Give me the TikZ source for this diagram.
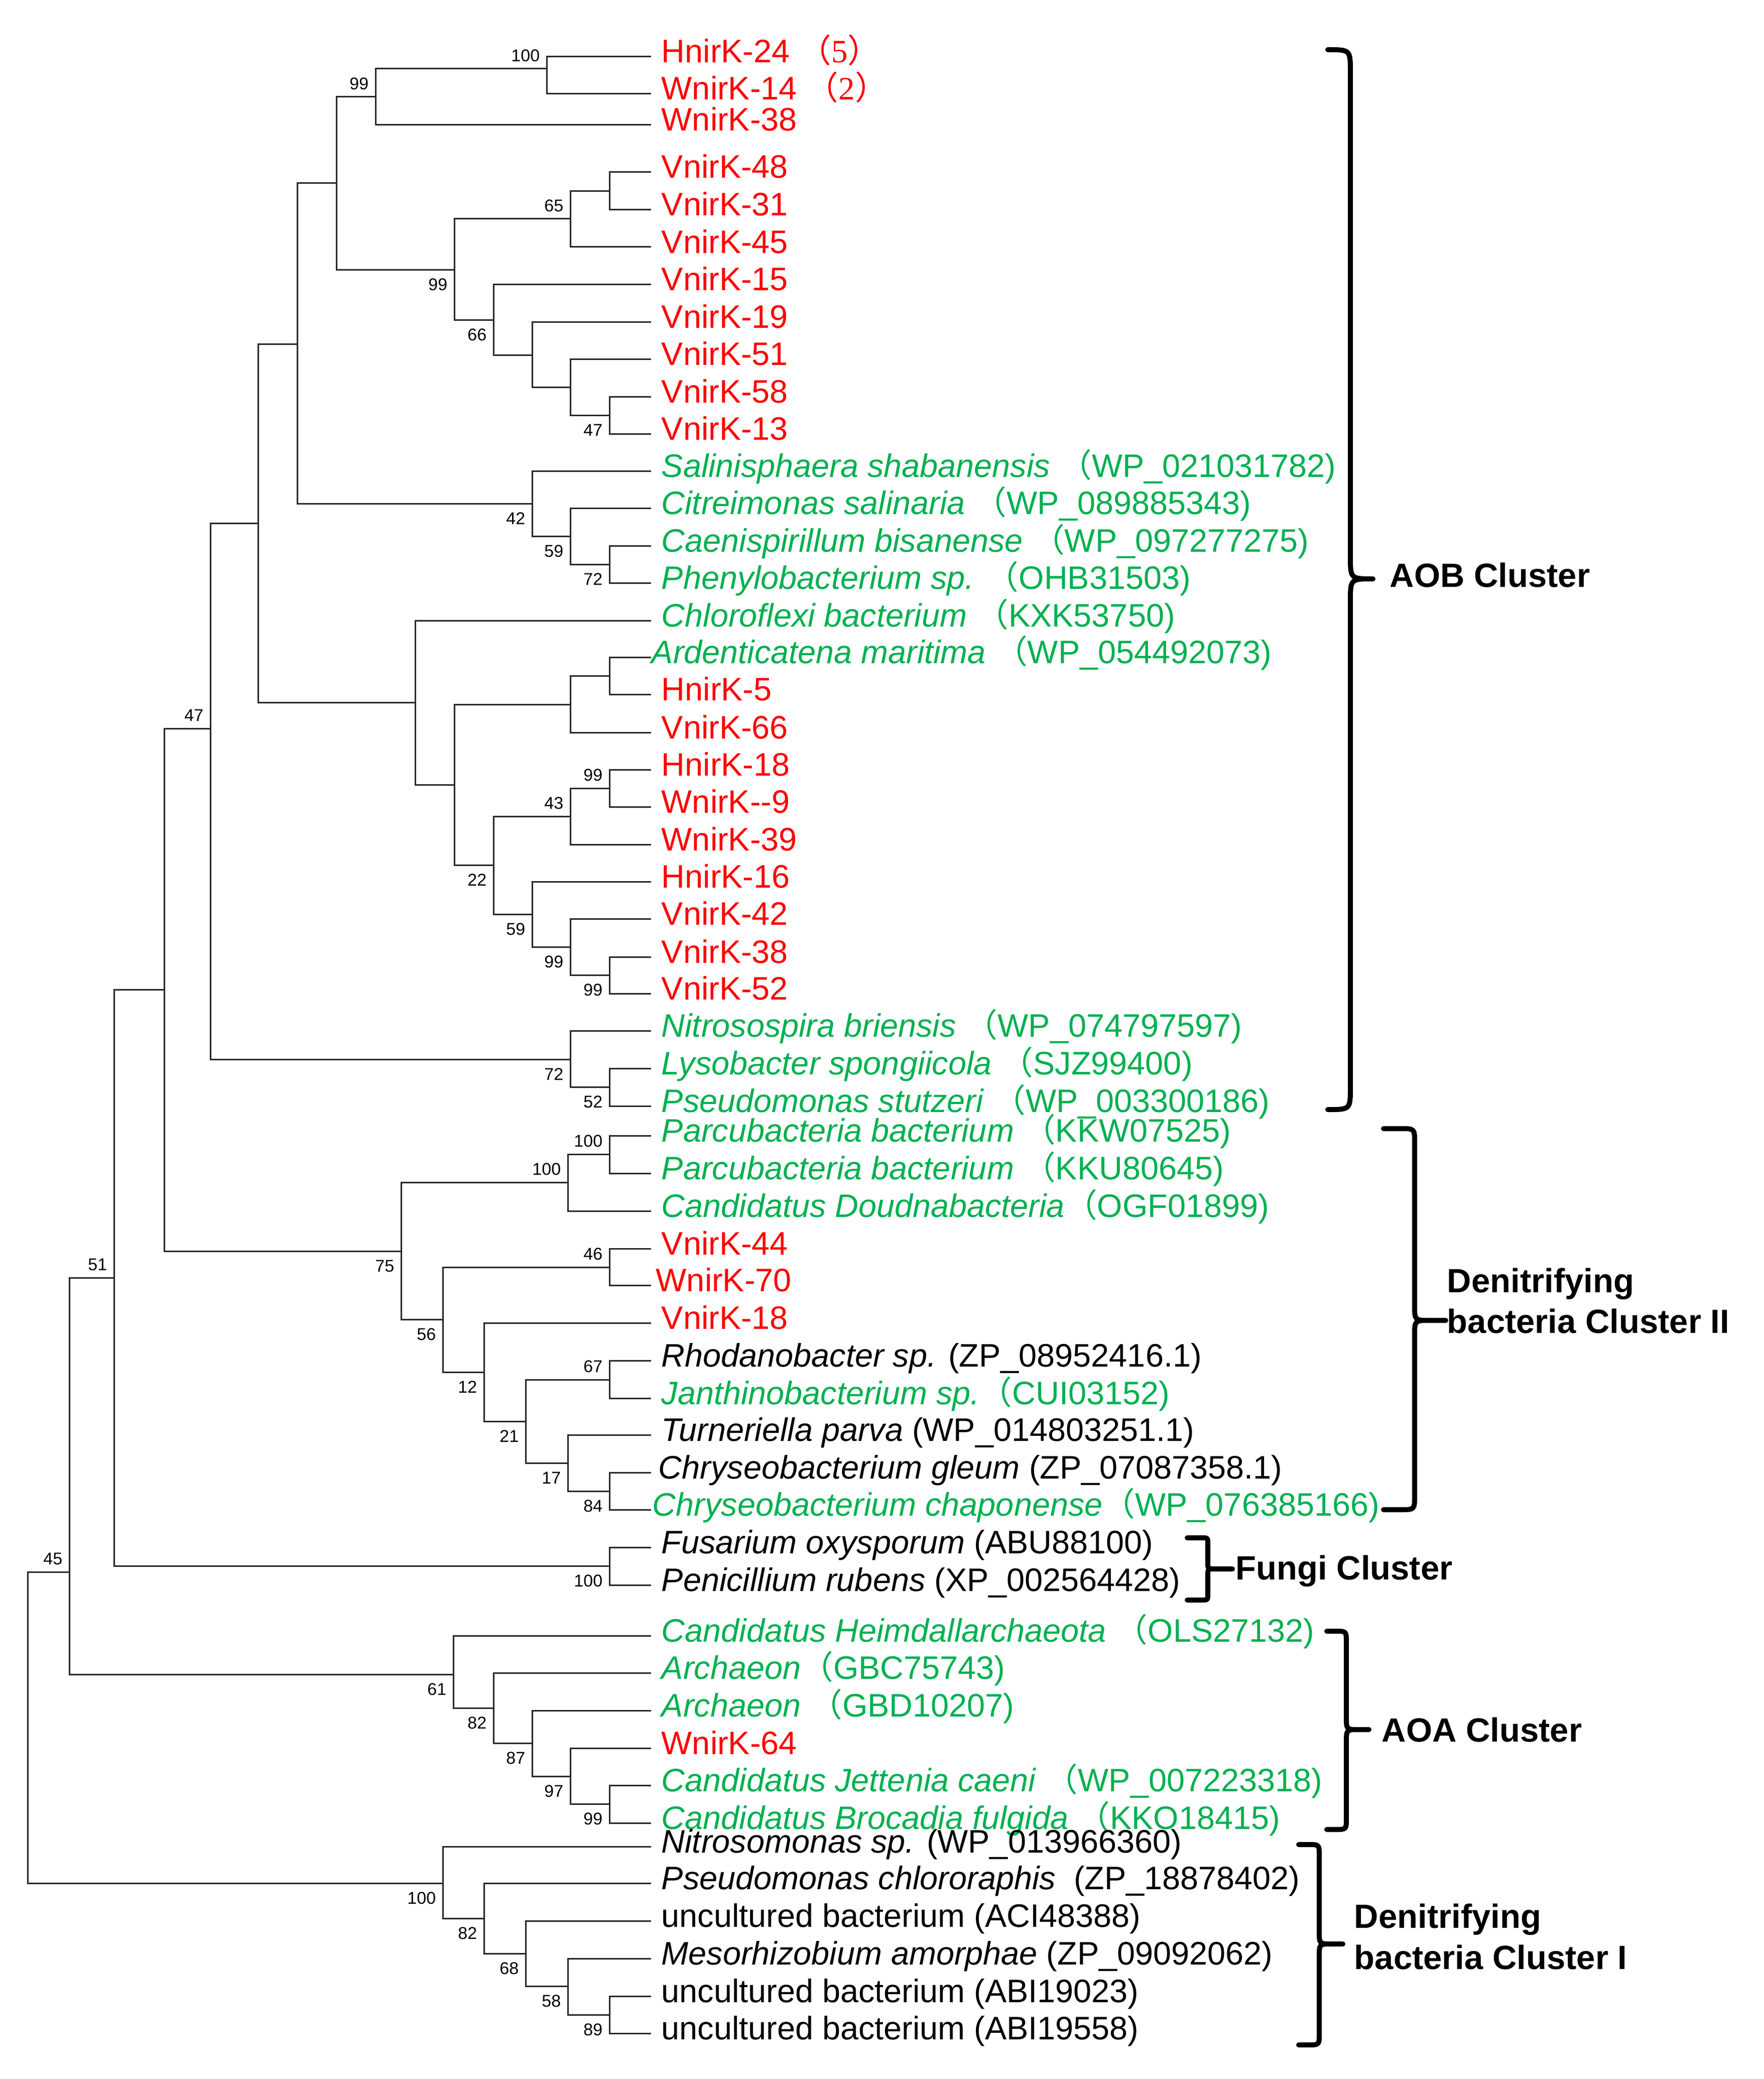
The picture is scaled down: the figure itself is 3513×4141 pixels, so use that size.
\documentclass[tikz,border=0pt]{standalone}
\usepackage{fontspec}
\setmainfont{Liberation Sans}
\newfontfamily\cjkfont{Noto Sans CJK SC}
\newfontfamily\serifdig{Liberation Serif}
\usetikzlibrary{calc}
\definecolor{myred}{RGB}{255,0,0}
\definecolor{mygreen}{RGB}{0,176,80}
\newcommand\fwl{{\cjkfont （}}
\newcommand\fwr{{\cjkfont ）}}
\newcommand\us{\textunderscore}
\newcommand\hy{\symbol{45}}
\newcommand\clbrace[8]{%
  \draw[brc] (#1,#4) -- (#2-#7,#4) .. controls (#2,#4) .. (#2,#4+#7)
    -- (#2,#5-#8) .. controls (#2,#5) .. (#2+#8,#5) -- (#3,#5)
    -- (#2+#8,#5) .. controls (#2,#5) .. (#2,#5+#8)
    -- (#2,#6-#7) .. controls (#2,#6) .. (#2-#7,#6) -- (#1,#6);}
\begin{document}
\begin{tikzpicture}[x=0.25pt,y=-0.25pt,
  br/.style={line width=0.75pt, line cap=rect, draw=black!85},
  brc/.style={line width=2.5pt, line join=round, line cap=round},
  lf/.style={font=\fontsize{16.2}{19}\selectfont, inner sep=0pt, anchor=base west, xshift=5.5pt, yshift=-3pt},
  rd/.style={lf, text=myred},
  gn/.style={lf, text=mygreen},
  bk/.style={lf, text=black},
  bsa/.style={font=\fontsize{8.5}{10}\selectfont, inner sep=0pt, anchor=south east, xshift=-3.25pt, yshift=3.4pt},
  bsb/.style={font=\fontsize{8.5}{10}\selectfont, inner sep=0pt, anchor=north east, xshift=-3.25pt, yshift=-4.3pt},
  cl/.style={font=\bfseries\fontsize{16.75}{20}\selectfont, inner sep=0pt, anchor=base west}]
\useasboundingbox (0,0) rectangle (3513,4141);

% ---------- leaf tips ----------
\foreach \i/\yy in {1/113,2/187,3/249,4/343,5/418,6/492,7/566,8/641,9/715,10/790,11/864,
  12/938,13/1012,14/1087,15/1161,16/1236,17/1309,18/1383,19/1459,20/1533,21/1607,22/1682,
  23/1756,24/1830,25/1906,26/1979,27/2053,28/2128,29/2203,30/2262,31/2337,32/2412,33/2487,
  34/2560,35/2635,36/2710,37/2785,38/2858,39/2933,40/3007,41/3082,42/3157,43/3258,44/3332,
  45/3407,46/3482,47/3556,48/3631,49/3678,50/3751,51/3826,52/3901,53/3976,54/4050}
  {\coordinate (l\i) at (1295,\yy);}

% ---------- internal nodes ----------
\coordinate (nA100) at (1089,137);
\coordinate (nA99) at (748,193);
\coordinate (nV4831) at (1214,381);
\coordinate (nV65) at (1136,436);
\coordinate (nV47) at (1214,827);
\coordinate (nV51) at (1136,771);
\coordinate (nV19) at (1060,707);
\coordinate (nV66) at (983,637);
\coordinate (nV99) at (905,537);
\coordinate (nTop) at (670,365);
\coordinate (nS72) at (1214,1124);
\coordinate (nS59) at (1136,1068);
\coordinate (nS42) at (1060,1003);
\coordinate (nU592) at (592,685);
\coordinate (nArd2) at (1214,1346);
\coordinate (nArd) at (1136,1403);
\coordinate (nC99) at (1214,1570);
\coordinate (nC43) at (1136,1626);
\coordinate (nC99c) at (1214,1942);
\coordinate (nC99b) at (1136,1886);
\coordinate (nC59) at (1060,1821);
\coordinate (nC22) at (983,1723);
\coordinate (nC2) at (905,1563);
\coordinate (nC) at (827,1399);
\coordinate (nU514) at (514,1042);
\coordinate (nN52) at (1214,2165);
\coordinate (nN72) at (1136,2110);
\coordinate (nU47) at (419,1451);
\coordinate (nD100a) at (1214,2299);
\coordinate (nD100b) at (1131,2355);
\coordinate (nD46) at (1214,2524);
\coordinate (nD67) at (1214,2748);
\coordinate (nD84) at (1214,2970);
\coordinate (nD17) at (1131,2914);
\coordinate (nD21) at (1047,2831);
\coordinate (nD12) at (964,2733);
\coordinate (nD56) at (882,2628);
\coordinate (nD75) at (799,2492);
\coordinate (nU327) at (327,1971);
\coordinate (nF100) at (1214,3119);
\coordinate (nU51) at (227,2545);
\coordinate (nQ99) at (1214,3593);
\coordinate (nQ97) at (1136,3538);
\coordinate (nQ87) at (1060,3472);
\coordinate (nQ82) at (983,3402);
\coordinate (nQ61) at (903,3335);
\coordinate (nU45) at (138,3131);
\coordinate (nR89) at (1214,4013);
\coordinate (nR58) at (1131,3956);
\coordinate (nR68) at (1047,3891);
\coordinate (nR82) at (964,3821);
\coordinate (nR100) at (882,3751);
\coordinate (root) at (55,3441);

% ---------- branches ----------
\foreach \p/\a/\b in {nA100/l1/l2, nA99/nA100/l3, nV4831/l4/l5, nV65/nV4831/l6,
  nV47/l10/l11, nV51/l9/nV47, nV19/l8/nV51, nV66/l7/nV19, nV99/nV65/nV66, nTop/nA99/nV99,
  nS72/l14/l15, nS59/l13/nS72, nS42/l12/nS59, nU592/nTop/nS42,
  nArd2/l17/l18, nArd/nArd2/l19, nC99/l20/l21, nC43/nC99/l22, nC99c/l25/l26,
  nC99b/l24/nC99c, nC59/l23/nC99b, nC22/nC43/nC59, nC2/nArd/nC22, nC/l16/nC2,
  nU514/nU592/nC, nN52/l28/l29, nN72/l27/nN52, nU47/nU514/nN72,
  nD100a/l30/l31, nD100b/nD100a/l32, nD46/l33/l34, nD67/l36/l37, nD84/l39/l40,
  nD17/l38/nD84, nD21/nD67/nD17, nD12/l35/nD21, nD56/nD46/nD12, nD75/nD100b/nD56,
  nU327/nU47/nD75, nF100/l41/l42, nU51/nU327/nF100,
  nQ99/l47/l48, nQ97/l46/nQ99, nQ87/l45/nQ97, nQ82/l44/nQ87, nQ61/l43/nQ82,
  nU45/nU51/nQ61, nR89/l53/l54, nR58/l52/nR89, nR68/l51/nR58, nR82/l50/nR68,
  nR100/l49/nR82, root/nU45/nR100}
  {\draw[br] (\p) |- (\a) (\p) |- (\b);}

% ---------- bootstrap values ----------
\node[bsa] (b1) at (nA100) {100};
\node[bsa] (b2) at (nA99) {99};
\node[bsa] (b3) at (nV65) {65};
\node[bsb] (b4) at (nV99) {99};
\node[bsb] (b5) at (nV66) {66};
\node[bsb] (b6) at (nV47) {47};
\node[bsb] (b7) at (nS42) {42};
\node[bsb] (b8) at (nS59) {59};
\node[bsb] (b9) at (nS72) {72};
\node[bsa] (b10) at (nU47) {47};
\node[bsa] (b11) at (nC99) {99};
\node[bsa] (b12) at (nC43) {43};
\node[bsb] (b13) at (nC22) {22};
\node[bsb] (b14) at (nC59) {59};
\node[bsb] (b15) at (nC99b) {99};
\node[bsb] (b16) at (nC99c) {99};
\node[bsb] (b17) at (nN72) {72};
\node[bsb] (b18) at (nN52) {52};
\node[bsa] (b19) at (nD100a) {100};
\node[bsa] (b20) at (nD100b) {100};
\node[bsa] (b21) at (nU51) {51};
\node[bsb] (b22) at (nD75) {75};
\node[bsa] (b23) at (nD46) {46};
\node[bsb] (b24) at (nD56) {56};
\node[bsb] (b25) at (nD12) {12};
\node[bsa] (b26) at (nD67) {67};
\node[bsb] (b27) at (nD21) {21};
\node[bsb] (b28) at (nD17) {17};
\node[bsb] (b29) at (nD84) {84};
\node[bsa] (b30) at (nU45) {45};
\node[bsb] (b31) at (nF100) {100};
\node[bsb] (b32) at (nQ61) {61};
\node[bsb] (b33) at (nQ82) {82};
\node[bsb] (b34) at (nQ87) {87};
\node[bsb] (b35) at (nQ97) {97};
\node[bsb] (b36) at (nQ99) {99};
\node[bsb] (b37) at (nR100) {100};
\node[bsb] (b38) at (nR82) {82};
\node[bsb] (b39) at (nR68) {68};
\node[bsb] (b40) at (nR58) {58};
\node[bsb] (b41) at (nR89) {89};

% ---------- leaf labels ----------
\node[rd] (t1) at (l1) {HnirK-24 \fwl{\serifdig 5}\fwr};
\node[rd] (t2) at (l2) {WnirK-14 \fwl{\serifdig 2}\fwr};
\node[rd] (t3) at (l3) {WnirK-38};
\node[rd] (t4) at (l4) {VnirK-48};
\node[rd] (t5) at (l5) {VnirK-31};
\node[rd] (t6) at (l6) {VnirK-45};
\node[rd] (t7) at (l7) {VnirK-15};
\node[rd] (t8) at (l8) {VnirK-19};
\node[rd] (t9) at (l9) {VnirK-51};
\node[rd] (t10) at (l10) {VnirK-58};
\node[rd] (t11) at (l11) {VnirK-13};
\node[gn] (t12) at (l12) {\textit{Salinisphaera shabanensis} \fwl WP\us021031782)};
\node[gn] (t13) at (l13) {\textit{Citreimonas salinaria} \fwl WP\us089885343)};
\node[gn] (t14) at (l14) {\textit{Caenispirillum bisanense} \fwl WP\us097277275)};
\node[gn] (t15) at (l15) {\textit{Phenylobacterium sp.} \fwl OHB31503)};
\node[gn] (t16) at (l16) {\textit{Chloroflexi bacterium} \fwl KXK53750)};
\node[gn,xshift=-5pt] (t17) at (l17) {\textit{Ardenticatena maritima} \fwl WP\us054492073)};
\node[rd] (t18) at (l18) {HnirK-5};
\node[rd] (t19) at (l19) {VnirK-66};
\node[rd] (t20) at (l20) {HnirK-18};
\node[rd] (t21) at (l21) {WnirK\hy\hy9};
\node[rd] (t22) at (l22) {WnirK-39};
\node[rd] (t23) at (l23) {HnirK-16};
\node[rd] (t24) at (l24) {VnirK-42};
\node[rd] (t25) at (l25) {VnirK-38};
\node[rd] (t26) at (l26) {VnirK-52};
\node[gn] (t27) at (l27) {\textit{Nitrosospira briensis} \fwl WP\us074797597)};
\node[gn] (t28) at (l28) {\textit{Lysobacter spongiicola} \fwl SJZ99400)};
\node[gn] (t29) at (l29) {\textit{Pseudomonas stutzeri} \fwl WP\us003300186)};
\node[gn] (t30) at (l30) {\textit{Parcubacteria bacterium} \fwl KKW07525)};
\node[gn] (t31) at (l31) {\textit{Parcubacteria bacterium} \fwl KKU80645)};
\node[gn] (t32) at (l32) {\textit{Candidatus Doudnabacteria}\fwl OGF01899)};
\node[rd] (t33) at (l33) {VnirK-44};
\node[rd,xshift=-2.75pt] (t34) at (l34) {WnirK-70};
\node[rd] (t35) at (l35) {VnirK-18};
\node[bk] (t36) at (l36) {\textit{Rhodanobacter sp.} (ZP\us08952416.1)};
\node[gn] (t37) at (l37) {\textit{Janthinobacterium sp.}\fwl CUI03152)};
\node[bk] (t38) at (l38) {\textit{Turneriella parva} (WP\us014803251.1)};
\node[bk,xshift=-1.5pt] (t39) at (l39) {\textit{Chryseobacterium gleum} (ZP\us07087358.1)};
\node[gn,xshift=-4.5pt] (t40) at (l40) {\textit{Chryseobacterium chaponense}\fwl WP\us076385166)};
\node[bk] (t41) at (l41) {\textit{Fusarium oxysporum} (ABU88100)};
\node[bk] (t42) at (l42) {\textit{Penicillium rubens} (XP\us002564428)};
\node[gn] (t43) at (l43) {\textit{Candidatus Heimdallarchaeota} \fwl OLS27132)};
\node[gn] (t44) at (l44) {\textit{Archaeon}\fwl GBC75743)};
\node[gn] (t45) at (l45) {\textit{Archaeon} \fwl GBD10207)};
\node[rd] (t46) at (l46) {WnirK-64};
\node[gn] (t47) at (l47) {\textit{Candidatus Jettenia caeni} \fwl WP\us007223318)};
\node[gn] (t48) at (l48) {\textit{Candidatus Brocadia fulgida} \fwl KKO18415)};
\node[bk] (t49) at (l49) {\textit{Nitrosomonas sp.} (WP\us013966360)};
\node[bk] (t50) at (l50) {\textit{Pseudomonas chlororaphis}\ \ (ZP\us18878402)};
\node[bk] (t51) at (l51) {uncultured bacterium (ACI48388)};
\node[bk] (t52) at (l52) {\textit{Mesorhizobium amorphae} (ZP\us09092062)};
\node[bk] (t53) at (l53) {uncultured bacterium (ABI19023)};
\node[bk] (t54) at (l54) {uncultured bacterium (ABI19558)};

% ---------- cluster brackets ----------
\clbrace{2649}{2690}{2735}{99}{1153}{2210}{45}{45}
\clbrace{2756}{2818}{2880}{2248}{2630}{3007}{28}{30}
\clbrace{2365}{2406}{2455}{3063}{3125}{3187}{12}{14}
\clbrace{2643}{2682}{2727}{3249}{3445}{3644}{22}{25}
\clbrace{2587}{2628}{2675}{3674}{3872}{4073}{22}{25}

\node[cl] (c1) at (2768,1169) {AOB Cluster};
\node[cl] (c2a) at (2882,2574) {Denitrifying};
\node[cl] (c2b) at (2882,2655) {bacteria Cluster II};
\node[cl] (c3) at (2461,3146) {Fungi Cluster};
\node[cl] (c4) at (2752,3469) {AOA Cluster};
\node[cl] (c5a) at (2697,3840) {Denitrifying};
\node[cl] (c5b) at (2697,3922) {bacteria Cluster I};
\end{tikzpicture}
\end{document}
